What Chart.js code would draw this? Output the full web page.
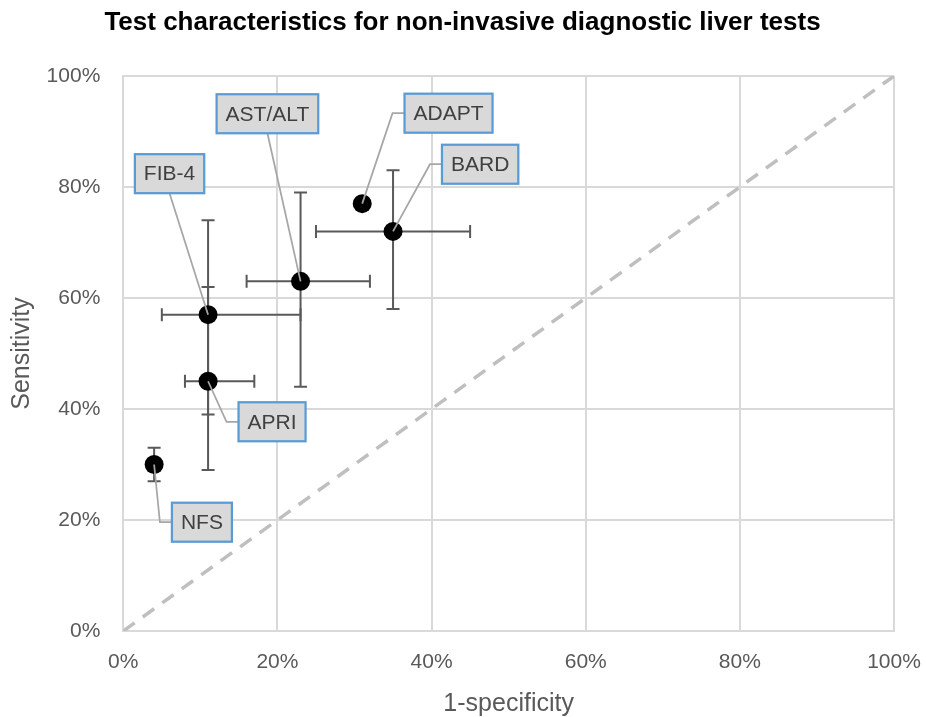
<!DOCTYPE html>
<html>
<head>
<meta charset="utf-8">
<script src="https://cdn.jsdelivr.net/npm/chart.js@4/dist/chart.umd.min.js"></script>
<style>
  html, body { margin: 0; padding: 0; background: #ffffff; }
  #wrap { width: 926px; height: 717px; position: relative; }
</style>
</head>
<body>
<div id="wrap"><canvas id="c" width="926" height="717"></canvas></div>
<script>
// ---- data ----
const tests        = ['NFS', 'APRI', 'FIB-4', 'AST/ALT', 'BARD', 'ADAPT'];
const oneMinusSpec = [4, 11, 11, 23, 35, 31];      // x, %
const sensitivity  = [30, 45, 57, 63, 72, 77];     // y, %
const specLow      = [null, 8, 5, 16, 25, null];
const specHigh     = [null, 17, 23, 32, 45, null];
const sensLow      = [27, 29, 39, 44, 58, null];
const sensHigh     = [33, 62, 74, 79, 83, null];
const refLineX     = [0, 100];
const refLineY     = [0, 100];
const tickValues   = [0, 20, 40, 60, 80, 100];
const tickLabels   = ['0%', '20%', '40%', '60%', '80%', '100%'];
const titleText    = 'Test characteristics for non-invasive diagnostic liver tests';
const xTitle       = '1-specificity';
const yTitle       = 'Sensitivity';

// ---- label layout (axis units) ----
const labelX      = [10.2, 19.3, 6.0, 18.7, 46.3, 42.2];
const labelY      = [19.6, 37.7, 82.4, 93.2, 84.1, 93.3];
const labelAnchor = ['left', 'left', 'bottom', 'bottom', 'left', 'left'];

const FONT = '"Liberation Sans", Arial, sans-serif';

const titlePlugin = {
  id: 'chartTitle',
  afterDraw(chart) {
    const {ctx} = chart;
    ctx.save();
    ctx.font = 'bold 26px ' + FONT;
    ctx.fillStyle = '#000000';
    ctx.textAlign = 'center';
    ctx.textBaseline = 'middle';
    ctx.fillText(titleText, 462.5, 23);
    ctx.restore();
  }
};

const errorBarPlugin = {
  id: 'errorBars',
  beforeDatasetsDraw(chart) {
    const {ctx, scales: {x, y}} = chart;
    ctx.save();
    ctx.strokeStyle = '#595959';
    ctx.lineWidth = 2;
    const cap = 6.5;
    tests.forEach((t, i) => {
      const px = x.getPixelForValue(oneMinusSpec[i]);
      const py = y.getPixelForValue(sensitivity[i]);
      ctx.beginPath();
      if (specLow[i] != null) {
        const x1 = x.getPixelForValue(specLow[i]), x2 = x.getPixelForValue(specHigh[i]);
        ctx.moveTo(x1, py); ctx.lineTo(x2, py);
        ctx.moveTo(x1, py - cap); ctx.lineTo(x1, py + cap);
        ctx.moveTo(x2, py - cap); ctx.lineTo(x2, py + cap);
      }
      if (sensLow[i] != null) {
        const y1 = y.getPixelForValue(sensLow[i]), y2 = y.getPixelForValue(sensHigh[i]);
        ctx.moveTo(px, y1); ctx.lineTo(px, y2);
        ctx.moveTo(px - cap, y1); ctx.lineTo(px + cap, y1);
        ctx.moveTo(px - cap, y2); ctx.lineTo(px + cap, y2);
      }
      ctx.stroke();
    });
    ctx.restore();
  }
};

const labelPlugin = {
  id: 'dataLabels',
  afterDatasetsDraw(chart) {
    const {ctx, scales: {x, y}} = chart;
    ctx.save();
    ctx.font = '21px ' + FONT;
    tests.forEach((name, i) => {
      const px = x.getPixelForValue(oneMinusSpec[i]);
      const py = y.getPixelForValue(sensitivity[i]);
      const cx = x.getPixelForValue(labelX[i]);
      const cy = y.getPixelForValue(labelY[i]);
      const tw = ctx.measureText(name).width;
      const w = tw + 18, h = 39;
      const left = cx - w / 2, top = cy - h / 2;
      ctx.strokeStyle = '#a6a6a6';
      ctx.lineWidth = 1.75;
      ctx.beginPath();
      if (labelAnchor[i] === 'left') {
        ctx.moveTo(left, cy); ctx.lineTo(left - 12, cy); ctx.lineTo(px, py);
      } else {
        ctx.moveTo(cx, top + h); ctx.lineTo(px, py);
      }
      ctx.stroke();
      ctx.fillStyle = '#d9d9d9';
      ctx.fillRect(left, top, w, h);
      ctx.strokeStyle = '#5b9bd5';
      ctx.lineWidth = 2.25;
      ctx.strokeRect(left, top, w, h);
      ctx.fillStyle = '#404040';
      ctx.textAlign = 'center';
      ctx.textBaseline = 'middle';
      ctx.fillText(name, cx, cy + 1);
    });
    ctx.restore();
  }
};

const points = oneMinusSpec.map((v, i) => ({x: v, y: sensitivity[i]}));
const refLine = refLineX.map((v, i) => ({x: v, y: refLineY[i]}));

new Chart(document.getElementById('c'), {
  type: 'scatter',
  data: {
    datasets: [
      {
        label: 'Reference',
        data: refLine,
        showLine: true,
        borderColor: '#bfbfbf',
        borderWidth: 3.5,
        borderDash: [14, 10],
        pointRadius: 0,
        order: 2
      },
      {
        label: 'Tests',
        data: points,
        pointRadius: 9.5,
        pointHoverRadius: 9.5,
        backgroundColor: '#000000',
        borderWidth: 0,
        order: 1
      }
    ]
  },
  options: {
    responsive: false,
    animation: false,
    events: [],
    layout: { padding: { left: 4, right: 32, top: 76, bottom: 0 } },
    plugins: {
      legend: { display: false },
      tooltip: { enabled: false },
      title: { display: false }
    },
    scales: {
      x: {
        type: 'linear',
        min: 0, max: 100,
        afterBuildTicks: s => { s.ticks = tickValues.map(v => ({value: v})); },
        afterFit: s => { s.height = 86; s.paddingLeft = 0; s.paddingRight = 0; },
        grid: { color: '#d9d9d9', lineWidth: 2, drawTicks: false },
        border: { color: '#d9d9d9', width: 2 },
        ticks: {
          callback: (v, i) => tickLabels[i],
          color: '#595959',
          font: { family: FONT, size: 21 },
          padding: 19,
          maxRotation: 0
        },
        title: {
          display: true,
          text: xTitle,
          color: '#595959',
          font: { family: FONT, size: 25, lineHeight: 1.2 },
          padding: { top: 0, bottom: -2 }
        }
      },
      y: {
        type: 'linear',
        min: 0, max: 100,
        afterBuildTicks: s => { s.ticks = tickValues.map(v => ({value: v})); },
        afterFit: s => { s.width = 119.3; s.paddingTop = 0; s.paddingBottom = 0; },
        grid: { color: '#d9d9d9', lineWidth: 2, drawTicks: false },
        border: { color: '#d9d9d9', width: 2 },
        ticks: {
          callback: (v, i) => tickLabels[i],
          color: '#595959',
          font: { family: FONT, size: 21 },
          padding: 23
        },
        title: {
          display: true,
          text: yTitle,
          color: '#595959',
          font: { family: FONT, size: 25, lineHeight: 1.2 },
          padding: { top: 2.7, bottom: 0 }
        }
      }
    }
  },
  plugins: [titlePlugin, errorBarPlugin, labelPlugin]
});
</script>
</body>
</html>
